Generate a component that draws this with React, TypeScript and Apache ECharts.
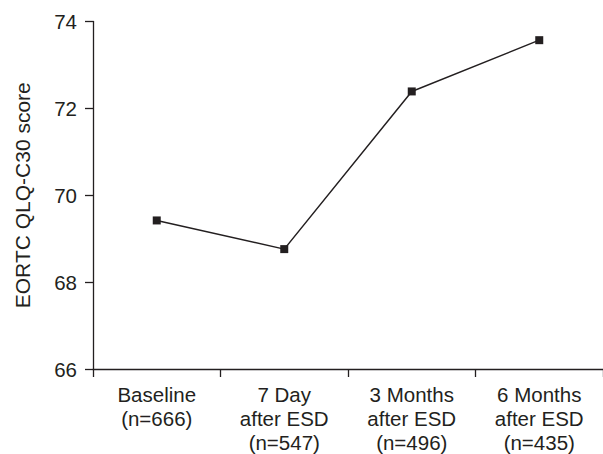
import React, { useEffect, useRef } from "react";
import * as echarts from "echarts";

const categories = [
  "Baseline\n(n=666)",
  "7 Day\nafter ESD\n(n=547)",
  "3 Months\nafter ESD\n(n=496)",
  "6 Months\nafter ESD\n(n=435)",
];
const scores = [69.42, 68.76, 72.39, 73.57];
const yMin = 66;
const yMax = 74;
const yInterval = 2;
const yName = "EORTC QLQ-C30 score";

const ink = "#231f20";
const font = "'Liberation Sans', Arial, Helvetica, sans-serif";

export default function App() {
  const ref = useRef<HTMLDivElement>(null);
  useEffect(() => {
    if (!ref.current) return;
    const chart = echarts.init(ref.current, null, { renderer: "svg" });
    chart.setOption({
      animation: false,
      backgroundColor: "#ffffff",
      grid: { left: 93, top: 21.5, width: 518, height: 351.5, containLabel: false },
      xAxis: {
        type: "category",
        data: categories,
        boundaryGap: true,
        axisLine: { show: true, lineStyle: { color: ink, width: 1.3 } },
        axisTick: { show: true, length: 8, lineStyle: { color: ink, width: 1.3 } },
        axisLabel: {
          color: ink,
          fontSize: 20.5,
          lineHeight: 24,
          fontFamily: font,
          margin: 13,
          interval: 0,
          align: "center",
        },
        splitLine: { show: false },
      },
      yAxis: {
        type: "value",
        min: yMin,
        max: yMax,
        interval: yInterval,
        name: yName,
        nameLocation: "middle",
        nameGap: 60,
        nameTextStyle: { color: ink, fontSize: 21, fontFamily: font },
        axisLine: { show: true, lineStyle: { color: ink, width: 1.3 } },
        axisTick: { show: true, length: 8, lineStyle: { color: ink, width: 1.3 } },
        axisLabel: { color: ink, fontSize: 20.5, fontFamily: font, margin: 16 },
        splitLine: { show: false },
      },
      series: [
        {
          type: "line",
          data: scores,
          symbol: "rect",
          symbolSize: 8,
          itemStyle: { color: ink },
          lineStyle: { color: ink, width: 1.5 },
          clip: false,
        },
      ],
    });
    return () => chart.dispose();
  }, []);
  return (
    <div
      ref={ref}
      style={{ position: "absolute", left: 0, top: 0, width: 603, height: 454 }}
    />
  );
}
